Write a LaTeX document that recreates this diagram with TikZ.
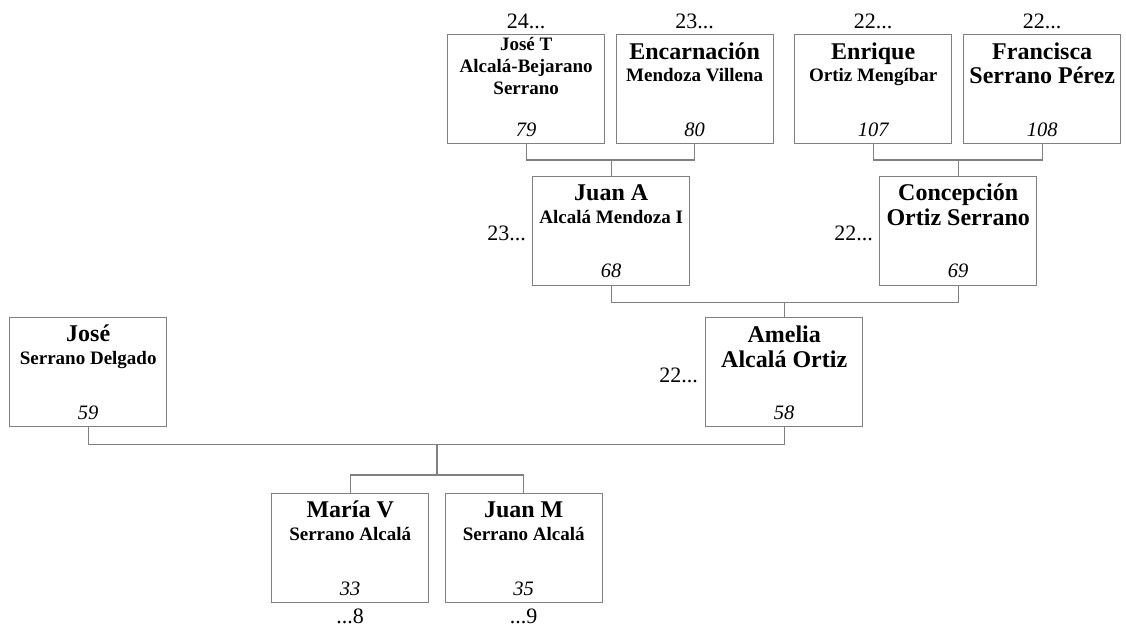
\documentclass[tikz,border=0pt]{standalone}
\usepackage{fontspec}
\setmainfont{Liberation Serif}
\usetikzlibrary{calc}

\definecolor{linegray}{rgb}{.5,.5,.5}

\begin{document}
\begin{tikzpicture}[x=1pt, y=-1pt,
  box/.style={draw=linegray, line width=1.4pt, fill=white, minimum width=157pt, minimum height=109pt, inner sep=0pt, anchor=north west},
  link/.style={draw=linegray, line width=1.4pt},
  big/.style={font=\bfseries\fontsize{24}{26}\selectfont, anchor=base, inner sep=0pt},
  small/.style={font=\bfseries\fontsize{19}{21}\selectfont, anchor=base, inner sep=0pt},
  num/.style={font=\itshape\fontsize{20.5}{22}\selectfont, anchor=base, inner sep=0pt},
  gen/.style={font=\fontsize{22}{24}\selectfont, inner sep=0pt}]
\useasboundingbox (0,0) rectangle (1126,627);

\node[box] (p79) at (447,34) {};
\node[box] (p80) at (615.5,34) {};
\node[box] (p107) at (794,34) {};
\node[box] (p108) at (963,34) {};
\node[box] (p68) at (532,175.5) {};
\node[box] (p69) at (879,175.5) {};
\node[box] (p59) at (9,317) {};
\node[box] (p58) at (705,317) {};
\node[box] (p33) at (271,493) {};
\node[box] (p35) at (444.5,493) {};

% names
\node[small] (n79a) at ([yshift=-16pt]p79.north) {José T};
\node[small] (n79b) at ([yshift=-38.5pt]p79.north) {Alcalá-Bejarano};
\node[small] (n79c) at ([yshift=-60pt]p79.north) {Serrano};
\node[big] (n80a) at ([yshift=-25pt]p80.north) {Encarnación};
\node[small] (n80b) at ([yshift=-47.5pt]p80.north) {Mendoza Villena};
\node[big] (n107a) at ([yshift=-25.5pt]p107.north) {Enrique};
\node[small] (n107b) at ([yshift=-47.5pt]p107.north) {Ortiz Mengíbar};
\node[big] (n108a) at ([yshift=-25.5pt]p108.north) {Francisca};
\node[big] (n108b) at ([yshift=-49.5pt]p108.north) {Serrano Pérez};
\node[big] (n68a) at ([yshift=-24.5pt]p68.north) {Juan A};
\node[small] (n68b) at ([yshift=-47.5pt]p68.north) {Alcalá Mendoza I};
\node[big] (n69a) at ([yshift=-25pt]p69.north) {Concepción};
\node[big] (n69b) at ([yshift=-49.5pt]p69.north) {Ortiz Serrano};
\node[big] (n59a) at ([yshift=-24.5pt]p59.north) {José};
\node[small] (n59b) at ([yshift=-47pt]p59.north) {Serrano Delgado};
\node[big] (n58a) at ([yshift=-25pt]p58.north) {Amelia};
\node[big] (n58b) at ([yshift=-50pt]p58.north) {Alcalá Ortiz};
\node[big] (n33a) at ([yshift=-24pt]p33.north) {María V};
\node[small] (n33b) at ([yshift=-47pt]p33.north) {Serrano Alcalá};
\node[big] (n35a) at ([yshift=-24pt]p35.north) {Juan M};
\node[small] (n35b) at ([yshift=-47pt]p35.north) {Serrano Alcalá};

% numbers
\node[num] (i79) at ([yshift=8pt]p79.south) {79};
\node[num] (i80) at ([yshift=8pt]p80.south) {80};
\node[num] (i107) at ([yshift=8pt]p107.south) {107};
\node[num] (i108) at ([yshift=8pt]p108.south) {108};
\node[num] (i68) at ([yshift=8pt]p68.south) {68};
\node[num] (i69) at ([yshift=8pt]p69.south) {69};
\node[num] (i59) at ([yshift=8pt]p59.south) {59};
\node[num] (i58) at ([yshift=8pt]p58.south) {58};
\node[num] (i33) at ([yshift=8pt]p33.south) {33};
\node[num] (i35) at ([yshift=8pt]p35.south) {35};

% generations
\node[gen, anchor=base] (g79) at ([yshift=6pt]p79.north) {24...};
\node[gen, anchor=base] (g80) at ([yshift=6pt]p80.north) {23...};
\node[gen, anchor=base] (g107) at ([yshift=6pt]p107.north) {22...};
\node[gen, anchor=base] (g108) at ([yshift=6pt]p108.north) {22...};
\node[gen, anchor=base east] (g68) at ([xshift=-6pt, yshift=-10pt]p68.west) {23...};
\node[gen, anchor=base east] (g69) at ([xshift=-6pt, yshift=-10pt]p69.west) {22...};
\node[gen, anchor=base east] (g58) at ([xshift=-7pt, yshift=-10pt]p58.west) {22...};
\node[gen, anchor=base] (g33) at ([yshift=-20pt]p33.south) {...8};
\node[gen, anchor=base] (g35) at ([yshift=-20pt]p35.south) {...9};

% links
\draw[link] (p79.south) -- ++(0,15.5) coordinate (b68) -| (p80.south);
\draw[link] (p68.north) -- (p68.north |- b68);
\draw[link] (p107.south) -- ++(0,15.5) coordinate (b69) -| (p108.south);
\draw[link] (p69.north) -- (p69.north |- b69);
\draw[link] (p68.south) -- ++(0,16.5) coordinate (b58) -| (p69.south);
\draw[link] (p58.north) -- (p58.north |- b58);
\draw[link] (p59.south) -- ++(0,17) coordinate (b33) -| (p58.south);
\draw[link] (p33.north) -- ++(0,-18) coordinate (c33) -| (p35.north);
\coordinate (m33) at ($(p33.north)!.5!(p35.north)$);
\draw[link] (m33 |- c33) -- (m33 |- b33);
\end{tikzpicture}
\end{document}
